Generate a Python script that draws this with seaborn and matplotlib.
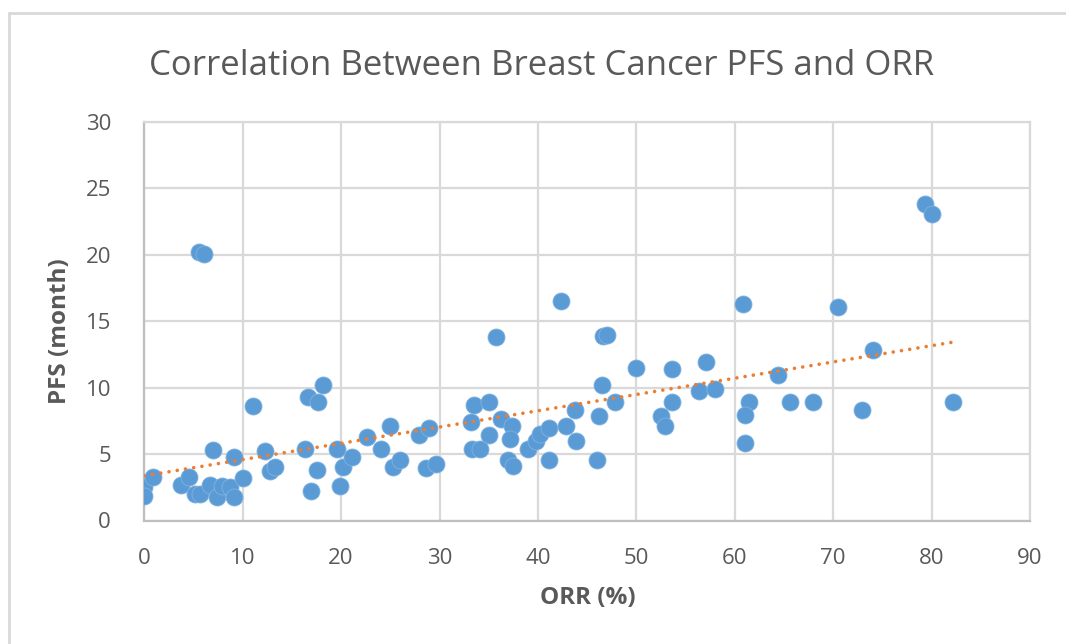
import matplotlib
matplotlib.use("Agg")
import matplotlib.pyplot as plt
import seaborn as sns
import pandas as pd
from matplotlib.lines import Line2D

orr = [0.0, 0.0, 0.85, 3.7, 4.5, 5.2, 5.7, 5.6, 6.1, 7.0, 6.7, 7.4, 7.9, 8.7, 9.1, 9.1,
       10.0, 11.0, 12.3, 12.8, 13.3, 16.3, 16.9, 16.6, 17.6, 18.2, 17.5, 19.6, 19.9, 20.2,
       21.1, 22.6, 24.1, 25.0, 25.3, 26.0, 27.9, 28.9, 28.6, 29.6, 35.7, 42.3, 46.6, 47.0,
       33.5, 35.0, 33.2, 36.2, 37.4, 35.0, 37.2, 33.3, 34.1, 37.0, 37.5, 39.0, 39.8, 40.2,
       41.1, 41.1, 42.9, 43.8, 43.9, 46.0, 46.2, 46.5, 47.8, 49.95, 53.6, 53.6, 52.5, 52.9,
       57.1, 56.4, 58.0, 60.8, 70.5, 79.3, 80.0, 74.0, 64.4, 61.4, 61.0, 61.0, 65.6, 67.9,
       72.95, 82.2]
pfs = [2.55, 1.85, 3.25, 2.65, 3.3, 2.0, 2.0, 20.25, 20.05, 5.3, 2.7, 1.75, 2.6, 2.5, 1.8, 4.8,
       3.2, 8.6, 5.2, 3.7, 4.05, 5.4, 2.2, 9.3, 8.9, 10.2, 3.8, 5.4, 2.6, 4.0,
       4.8, 6.25, 5.4, 7.1, 4.05, 4.55, 6.45, 7.0, 3.95, 4.25, 13.8, 16.5, 13.9, 13.95,
       8.7, 8.95, 7.4, 7.65, 7.1, 6.45, 6.1, 5.4, 5.4, 4.55, 4.1, 5.4, 6.0, 6.5,
       7.0, 4.55, 7.1, 8.3, 5.95, 4.55, 7.9, 10.2, 8.95, 11.5, 11.4, 8.95, 7.9, 7.1,
       11.9, 9.75, 9.9, 16.3, 16.1, 23.8, 23.05, 12.8, 10.95, 8.95, 7.95, 5.8, 8.95, 8.95,
       8.3, 8.95]
x_ticks = [0, 10, 20, 30, 40, 50, 60, 70, 80, 90]
y_ticks = [0, 5, 10, 15, 20, 25, 30]

title = "Correlation Between Breast Cancer PFS and ORR"
x_label = "ORR (%)"
y_label = "PFS (month)"

df = pd.DataFrame({"ORR": orr, "PFS": pfs})

sns.set_theme(style="white")
plt.rcParams["font.family"] = ["Open Sans", "DejaVu Sans"]

W, H = 1066, 644
fig = plt.figure(figsize=(W / 100, H / 100), dpi=100)
ax = fig.add_axes([144.3 / W, 1 - 520.5 / H, (1030 - 144.3) / W, (520.5 - 122) / H])

grid_c = "#d9d9d9"
text_c = "#595959"

sns.regplot(data=df, x="ORR", y="PFS", ax=ax, ci=None, truncate=True,
            scatter_kws=dict(s=150, color="#5b9bd5", edgecolor="#7fb2e0", linewidths=0.6,
                             alpha=1, zorder=3),
            line_kws=dict(color="#ed7d31", lw=2.6, linestyle=(0, (0.01, 2.3)),
                          dash_capstyle="round", zorder=4))

ax.set_xlim(0, 90)
ax.set_ylim(0, 30)
ax.set_xticks(x_ticks)
ax.set_yticks(y_ticks)
ax.grid(True, color=grid_c, lw=1.6)
ax.set_axisbelow(True)
for s in ax.spines.values():
    s.set_color(grid_c)
    s.set_linewidth(1.6)
for s in ["left", "bottom"]:
    ax.spines[s].set_color("#bfbfbf")
ax.tick_params(axis="both", length=0, labelsize=16, labelcolor=text_c)
ax.tick_params(axis="x", pad=20)
ax.tick_params(axis="y", pad=24)
ax.set_xlabel("")
ax.set_ylabel("")

fig.text(542 / W, 1 - 75 / H, title, ha="center", va="baseline", fontsize=25,
         color=text_c)
fig.text(588 / W, 1 - 598 / H, x_label, ha="center", va="center", fontsize=17.5,
         fontweight="bold", color=text_c)
fig.text(60 / W, 1 - 331 / H, y_label, ha="center", va="center", fontsize=17.5,
         fontweight="bold", color=text_c, rotation=90)

# chart frame
fig.add_artist(Line2D([9 / W, 9 / W], [0, 1 - 13 / H], transform=fig.transFigure,
                      color=grid_c, lw=2))
fig.add_artist(Line2D([9 / W, 1], [1 - 13 / H, 1 - 13 / H], transform=fig.transFigure,
                      color=grid_c, lw=2))

fig.savefig("out.png", dpi=100, facecolor="white")
